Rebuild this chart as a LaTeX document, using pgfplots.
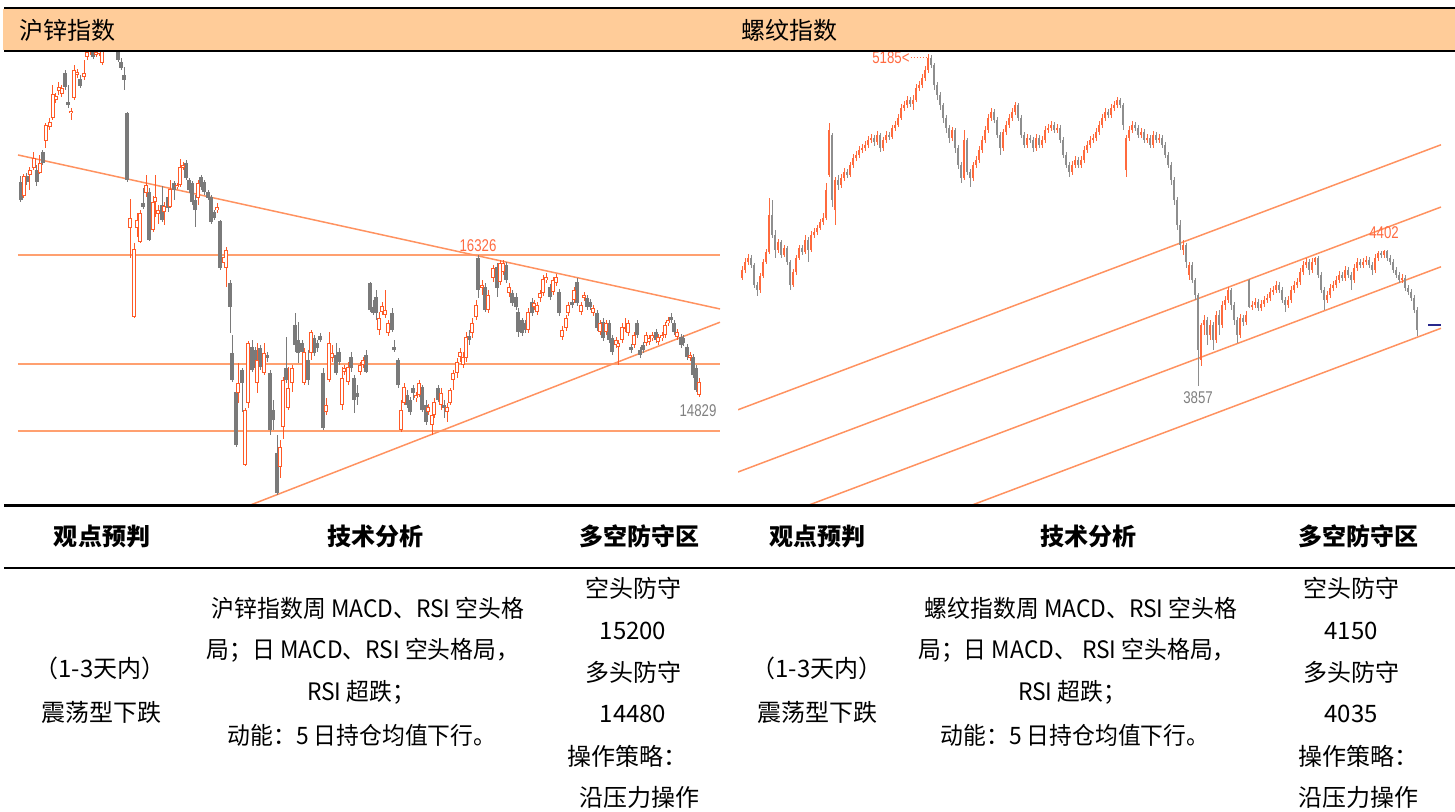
\documentclass[border=0pt]{standalone}
\usepackage{fontspec}
\setmainfont{Noto Sans CJK SC}
\newfontfamily\lab{Liberation Sans}
\usepackage{graphicx}
\usepackage{pgfplots}
\usepackage{pgfplotstable}
\pgfplotsset{compat=1.18}
\definecolor{cRed}{HTML}{FF5A28}
\definecolor{cGray}{HTML}{7A7A7A}
\definecolor{rRed}{HTML}{FF6A3D}
\definecolor{rGray}{HTML}{8E8E8E}
\definecolor{cLine}{HTML}{FF9260}
\definecolor{cHLine}{HTML}{FFA070}
\definecolor{cHead}{HTML}{FFCC99}
\definecolor{cLab}{HTML}{FF6A40}

% Zinc index (left), x = trading-day position, o h l c prices
\pgfplotstableread{
x o h l c
24 16942 17173 16921 17152
30 17163 17247 17005 17215
34 17236 17404 17215 17341
40 17185 17373 17173 17289
46 17520 17709 17446 17688
50 17667 17761 17635 17719
53 17761 18108 17740 18013
56 17950 18024 17919 17992
59 18045 18139 18003 18087
62 18013 18108 17982 18076
71 17814 17866 17740 17835
74 17971 18318 17950 18265
77 18213 18276 18181 18244
84 18192 18370 18160 18234
87 18402 18496 18370 18454
90 18450 18560 18420 18520
96 18423 18500 18400 18454
99 18430 18560 18410 18520
102 18339 18560 18320 18520
106 18520 18620 18480 18600
112 18540 18650 18510 18610
130 16606 16911 16291 16711
134 15672 16449 15661 16386
137 16606 16764 16512 16690
140 16459 16795 16449 16764
146 16974 17163 16932 17058
153 16585 16942 16564 16879
155 16879 17163 16722 16932
158 16753 16848 16648 16795
164 16774 16879 16638 16837
170 16827 17110 16816 17016
177 17037 17079 17016 17058
180 17058 17331 17037 17247
183 17236 17299 17215 17268
198 16921 17110 16848 17079
217 16795 16869 16764 16827
224 16239 16333 16186 16302
226 16186 16407 15987 16375
238 14874 15189 14769 14979
245 14118 14716 14107 14695
248 14769 15420 14716 15399
257 14979 15399 14874 15220
264 15084 15399 15063 15294
280 14097 14380 13981 14307
283 14517 15042 14391 15010
288 14716 15147 14695 14926
292 14979 15168 14884 15136
304 14979 15346 14958 15304
311 15294 15535 15220 15514
326 14674 14821 14643 14748
329 15010 15514 14989 15399
332 15241 15378 15199 15294
342 14748 15147 14695 15031
344 15094 15168 15063 15136
348 14989 15199 14958 15147
360 15094 15199 15063 15168
363 15168 15252 15136 15220
379 15535 15724 15483 15661
382 15724 15829 15693 15787
385 15693 15955 15661 15745
388 15504 15640 15472 15609
401 14485 14800 14464 14695
404 14769 14979 14748 14937
416 14821 14884 14779 14853
419 14853 15010 14832 14979
428 14674 14758 14643 14727
432 14538 14674 14433 14643
434 14643 14821 14611 14779
441 14748 14926 14695 14874
447 14674 14769 14569 14727
450 14769 14926 14748 14905
453 15010 15115 14905 15084
457 15084 15241 15031 15199
460 15252 15346 15199 15304
463 15168 15304 15136 15252
466 15241 15514 15199 15462
472 15504 15661 15451 15609
476 15672 15850 15640 15798
482 15976 16060 15903 16008
488 15745 15955 15714 15903
493 16081 16218 16039 16186
500 16039 16270 16008 16239
503 16144 16270 16113 16239
509 15924 16029 15882 15987
528 15535 15766 15504 15724
534 15777 15850 15745 15819
537 15724 15829 15693 15798
540 15871 15955 15829 15924
543 15924 16113 15892 16071
546 16060 16134 16029 16092
553 15934 16092 15903 16060
556 16029 16123 15997 16092
562 15462 15577 15430 15535
566 15556 15693 15525 15661
568 15714 15829 15682 15798
574 15850 15987 15819 15955
581 15724 15829 15693 15798
584 15871 15934 15840 15903
593 15714 15798 15682 15766
600 15514 15640 15483 15609
606 15514 15640 15483 15609
616 15378 15462 15346 15430
618 15357 15430 15168 15399
622 15430 15609 15399 15567
625 15556 15661 15514 15567
628 15504 15640 15472 15609
634 15378 15514 15346 15483
646 15399 15514 15367 15483
649 15409 15483 15378 15451
652 15451 15514 15420 15483
658 15409 15493 15378 15462
662 15451 15514 15420 15483
665 15483 15619 15451 15588
668 15609 15672 15577 15640
677 15462 15546 15430 15514
690 15241 15304 15210 15273
699 14853 15031 14829 14989
}\LU
\pgfplotstableread{
x o h l c
21 17089 17152 16879 16900
27 17152 17184 17058 17089
37 17215 17268 17047 17089
43 17404 17425 17268 17289
65 18234 18265 18055 18087
68 17929 18108 17866 17898
80 18171 18213 18076 18097
93 18475 18540 18380 18402
109 18600 18640 18500 18540
115 18610 18630 18470 18500
118 18480 18520 18349 18370
121 18349 18391 18265 18286
124 18213 18297 18055 18160
127 17814 17824 17089 17110
143 16869 17026 16806 16827
149 16984 17026 16470 16480
162 16848 17047 16669 16690
168 16932 16984 16774 16816
174 17079 17100 16900 17005
186 17289 17320 17110 17131
189 17110 17131 16974 17005
192 17079 17100 16848 16879
195 16900 16953 16617 16795
201 17142 17163 17005 17037
204 17089 17110 16953 16984
208 16984 17005 16900 16921
211 16932 16953 16648 16669
214 16774 16795 16690 16711
220 16680 16690 16165 16186
230 16029 16060 15504 15777
232 15294 15483 14989 15010
236 14884 14905 14307 14328
242 15115 15136 14674 14979
252 15357 15430 15094 15115
255 15325 15357 15115 15136
260 15346 15378 15115 15147
267 15273 15304 15199 15241
270 15084 15115 14433 14485
273 14695 14800 14485 14590
277 14244 14433 13803 13824
286 15136 15462 14979 15010
295 15588 15714 15304 15378
298 15430 15619 15189 15294
302 15399 15430 15262 15304
308 15220 15325 14958 15010
314 15451 15483 15262 15294
317 15399 15430 15304 15346
320 15472 15504 15409 15430
323 15084 15136 14485 14506
336 15273 15399 15063 15084
339 15304 15346 15168 15199
351 15252 15304 15094 15136
354 15031 15063 14664 14800
357 14874 14958 14748 14832
366 15273 15325 15084 15094
370 16029 16039 15724 15745
373 15777 15850 15693 15714
376 15882 15955 15640 15714
392 15714 15766 15514 15535
394 15357 15430 15304 15325
398 15220 15241 14926 14958
407 14853 14905 14716 14748
410 14800 14832 14643 14674
413 14926 14958 14800 14874
422 14937 14958 14674 14695
426 14748 14800 14538 14569
438 14926 14958 14779 14800
444 14748 14800 14611 14716
469 15472 15535 15378 15430
478 16291 16326 15871 15955
485 15987 16029 15724 15745
497 16197 16239 15882 15976
506 16218 16249 16029 16060
512 15924 15955 15787 15819
516 15882 15924 15745 15777
518 15724 15766 15462 15514
522 15640 15661 15472 15504
525 15609 15640 15504 15535
532 15829 15871 15682 15714
550 15987 16018 15850 15882
559 15934 15966 15682 15714
572 15829 15861 15766 15798
577 16039 16081 15787 15819
587 15871 15903 15745 15777
590 15829 15861 15745 15777
597 15714 15745 15525 15556
603 15619 15661 15420 15451
609 15609 15640 15399 15430
612 15451 15483 15273 15304
631 15357 15388 15294 15325
637 15609 15640 15451 15483
640 15325 15357 15241 15273
643 15378 15409 15294 15325
656 15514 15546 15399 15430
671 15672 15714 15609 15640
674 15609 15640 15483 15514
681 15462 15493 15346 15378
683 15451 15483 15367 15399
687 15357 15388 15220 15252
693 15252 15283 15031 15063
696 15136 15168 14884 14905
}\LD

% Rebar index (right), x = trading-day index
\pgfplotstableread{
x o h l c
0 4290 4336 4280 4320
1 4320 4368 4308 4352
2 4352 4384 4340 4368
6 4240 4308 4228 4296
7 4296 4364 4288 4352
8 4352 4404 4344 4392
9 4392 4608 4384 4540
12 4400 4444 4388 4432
14 4380 4420 4372 4408
17 4260 4324 4252 4312
18 4312 4380 4300 4368
19 4368 4420 4360 4408
21 4392 4460 4384 4440
23 4400 4476 4392 4460
24 4460 4488 4448 4472
25 4472 4500 4460 4488
26 4488 4524 4480 4512
27 4512 4548 4500 4528
28 4528 4668 4520 4640
29 4700 4908 4692 4880
31 4560 4692 4500 4680
33 4660 4704 4648 4688
34 4688 4728 4676 4712
36 4700 4752 4692 4740
37 4740 4784 4728 4768
38 4768 4796 4756 4780
39 4780 4816 4768 4800
40 4800 4824 4788 4808
41 4808 4836 4796 4820
42 4820 4856 4808 4840
43 4840 4864 4828 4848
45 4832 4876 4820 4860
47 4808 4852 4796 4840
48 4840 4876 4828 4860
50 4852 4900 4844 4888
51 4888 4916 4876 4900
52 4900 4944 4892 4928
53 4928 4984 4920 4968
54 4968 4996 4956 4980
55 4980 5016 4968 5000
57 4984 5020 4960 5000
58 5000 5064 4992 5048
59 5048 5076 5036 5060
60 5060 5104 5048 5088
61 5088 5136 5076 5120
62 5120 5185 5108 5168
70 4848 4892 4836 4880
74 4688 4880 4680 4840
77 4688 4752 4676 4740
78 4740 4776 4728 4760
79 4760 4816 4748 4800
80 4800 4856 4788 4840
81 4840 4896 4828 4880
82 4880 4944 4868 4928
83 4928 4968 4916 4952
87 4808 4884 4796 4872
88 4872 4916 4860 4900
89 4900 4944 4888 4928
90 4928 4968 4916 4952
91 4952 4992 4940 4980
95 4820 4864 4808 4848
98 4808 4864 4796 4848
100 4820 4856 4808 4840
101 4840 4896 4828 4880
102 4880 4904 4868 4888
103 4888 4916 4876 4900
105 4880 4904 4868 4888
110 4712 4756 4700 4740
111 4740 4776 4728 4760
113 4740 4776 4728 4760
114 4760 4816 4748 4800
115 4800 4836 4788 4820
116 4820 4856 4808 4840
117 4840 4864 4828 4848
118 4848 4888 4836 4872
119 4872 4916 4860 4900
120 4900 4944 4888 4928
121 4928 4968 4916 4952
123 4940 4984 4928 4968
124 4968 4996 4956 4980
125 4980 5012 4968 5000
128 4720 4860 4692 4848
129 4848 4896 4836 4880
130 4880 4916 4868 4900
133 4860 4888 4848 4872
135 4840 4864 4828 4848
137 4820 4876 4808 4860
139 4840 4864 4828 4848
147 4400 4440 4380 4420
149 4300 4352 4280 4340
153 3960 4110 3935 4100
154 4100 4140 4060 4120
156 4060 4120 4040 4100
158 4040 4156 4030 4140
160 4100 4196 4088 4180
161 4180 4216 4160 4200
162 4200 4252 4188 4240
166 4060 4144 4048 4128
168 4112 4156 4100 4140
170 4172 4196 4160 4180
171 4180 4208 4168 4192
173 4168 4200 4156 4184
174 4184 4216 4172 4200
175 4200 4224 4188 4208
176 4208 4248 4196 4232
177 4232 4256 4220 4240
178 4240 4276 4228 4260
182 4180 4216 4168 4200
183 4200 4256 4188 4240
184 4240 4276 4228 4260
185 4260 4288 4248 4272
186 4272 4328 4260 4312
187 4312 4356 4300 4340
188 4340 4368 4328 4352
190 4320 4368 4308 4352
191 4352 4372 4340 4368
195 4200 4236 4188 4220
196 4220 4264 4208 4248
197 4248 4276 4236 4260
198 4260 4296 4248 4280
199 4280 4316 4268 4300
201 4288 4336 4276 4320
204 4280 4344 4268 4328
205 4328 4368 4316 4352
207 4340 4368 4328 4352
208 4352 4376 4340 4360
211 4320 4384 4308 4368
212 4368 4396 4356 4388
214 4380 4402 4368 4395
220 4280 4304 4268 4288
}\RU
\pgfplotstableread{
x o h l c
3 4368 4380 4328 4340
4 4340 4348 4248 4260
5 4260 4272 4216 4240
10 4540 4600 4448 4460
11 4460 4480 4368 4400
13 4432 4440 4368 4380
15 4408 4416 4340 4352
16 4352 4360 4240 4260
20 4408 4420 4380 4392
22 4440 4452 4352 4400
30 4860 4868 4572 4600
32 4680 4700 4640 4660
35 4712 4724 4688 4700
44 4848 4860 4816 4832
46 4860 4868 4792 4808
49 4860 4872 4840 4852
56 5000 5012 4972 4984
63 5168 5180 5128 5140
64 5140 5148 5040 5060
65 5060 5072 5000 5020
66 5020 5032 4960 4980
67 4980 4990 4908 4928
68 4928 4940 4868 4888
69 4888 4900 4828 4848
71 4880 4888 4790 4808
72 4808 4820 4724 4740
73 4740 4752 4668 4688
75 4840 4848 4700 4712
76 4712 4724 4652 4688
84 4952 4964 4908 4920
85 4920 4932 4848 4860
86 4860 4872 4780 4808
92 4980 4988 4916 4928
93 4928 4940 4848 4860
94 4860 4872 4808 4820
96 4848 4860 4828 4840
97 4840 4852 4792 4808
99 4848 4860 4808 4820
104 4900 4912 4868 4880
106 4888 4900 4828 4840
107 4840 4852 4768 4780
108 4780 4792 4728 4740
109 4740 4752 4692 4712
112 4760 4772 4728 4740
122 4952 4964 4928 4940
126 5000 5008 4968 4980
127 4980 4988 4880 4900
131 4900 4912 4876 4888
132 4888 4900 4848 4860
134 4872 4884 4828 4840
136 4848 4860 4808 4820
138 4860 4872 4828 4840
140 4848 4860 4808 4820
141 4820 4832 4768 4780
142 4780 4792 4728 4740
143 4740 4752 4660 4680
144 4680 4692 4580 4600
145 4600 4612 4480 4500
146 4500 4520 4400 4420
148 4420 4428 4330 4352
150 4340 4352 4270 4280
151 4280 4290 4200 4220
152 4220 4228 3857 4000
155 4120 4132 4020 4060
157 4100 4112 4000 4040
159 4140 4160 4060 4100
163 4240 4248 4160 4180
164 4180 4192 4100 4120
165 4120 4132 4028 4060
167 4128 4140 4096 4112
169 4280 4284 4168 4172
172 4192 4204 4156 4168
179 4260 4272 4228 4240
180 4240 4252 4188 4200
181 4200 4212 4152 4180
189 4352 4364 4300 4320
192 4368 4376 4288 4300
193 4300 4312 4228 4240
194 4240 4252 4160 4200
200 4300 4312 4276 4288
202 4320 4332 4288 4300
203 4300 4312 4240 4280
206 4352 4364 4328 4340
209 4360 4372 4328 4340
210 4340 4352 4300 4320
213 4388 4398 4368 4380
215 4395 4400 4356 4368
216 4368 4380 4340 4352
217 4352 4364 4308 4320
218 4320 4332 4288 4300
219 4300 4312 4268 4280
221 4288 4300 4236 4248
222 4248 4260 4220 4232
223 4232 4244 4196 4208
224 4208 4220 4148 4160
225 4160 4172 4056 4080
}\RD

\pgfplotsset{
  cndl/.style 2 args={draw=none, mark=none, forget plot,
    error bars/.cd, y dir=both, y explicit, error mark=none,
    error bar style={draw=#1, line width=#2}},
}
\newcommand{\wick}[3]{\addplot[cndl={#2}{#3}] table[x=x, y expr={(\thisrow{h}+\thisrow{l})/2}, y error expr={(\thisrow{h}-\thisrow{l})/2}] {#1};}
\newcommand{\body}[3]{\addplot[cndl={#2}{#3}] table[x=x, y expr={(\thisrow{o}+\thisrow{c})/2}, y error expr={abs(\thisrow{o}-\thisrow{c})/2}] {#1};}
\newcommand{\hollow}[4]{\addplot[cndl={#2}{#3}] table[x=x, y expr={(\thisrow{o}+\thisrow{c})/2}, y error expr={max(abs(\thisrow{o}-\thisrow{c})/2-#4,0)}] {#1};}

\begin{document}
\begin{tikzpicture}
\path[use as bounding box] (0,0) rectangle (727.5pt,-405.5pt);
\begin{scope}[x=0.5pt,y=-0.5pt]
\fill[cHead] (3,9) rectangle (1455,50);
\node[anchor=west, inner sep=0, font=\fontsize{12}{12}\selectfont] at (19,30) {沪锌指数};
\node[anchor=west, inner sep=0, font=\fontsize{12}{12}\selectfont] at (741,30) {螺纹指数};
\end{scope}

% ---------- left: zinc ----------
\begin{axis}[at={(9pt,-26pt)}, anchor=north west, scale only axis,
  width=351pt, height=226pt, xmin=18, xmax=720, ymin=13708, ymax=18454,
  hide axis, clip=true]
\addplot[cHLine, line width=1pt, forget plot] coordinates {(18,16326) (720,16326)};
\addplot[cHLine, line width=1pt, forget plot] coordinates {(18,15180) (720,15180)};
\addplot[cHLine, line width=1pt, forget plot] coordinates {(18,14475) (720,14475)};
\addplot[cLine, line width=0.75pt, forget plot] coordinates {(18,17373) (720,15756)};
\addplot[cLine, line width=0.75pt, forget plot] coordinates {(240,13655) (720,15617)};
\wick{\LD}{cGray}{0.5pt}
\body{\LD}{cGray}{1.6pt}
\wick{\LU}{cRed}{0.5pt}
\body{\LU}{cRed}{1.6pt}
\hollow{\LU}{white}{0.55pt}{9}
\node[text=cLab, inner sep=0, font=\lab\fontsize{8.5}{8.5}\selectfont] at (axis cs:478,16420) {\scalebox{0.78}[1]{16326}};
\node[text=gray, inner sep=0, font=\lab\fontsize{8.5}{8.5}\selectfont] at (axis cs:698,14684) {\scalebox{0.78}[1]{14829}};
\end{axis}

% ---------- right: rebar ----------
\begin{axis}[at={(369pt,-26pt)}, anchor=north west, scale only axis,
  width=351.5pt, height=226pt, xmin=-1.3333, xmax=233, ymin=3384, ymax=5192,
  hide axis, clip=true]
\addplot[cLine, line width=0.75pt, forget plot] coordinates {(-1.3333,3761) (233,4821)};
\addplot[cLine, line width=0.75pt, forget plot] coordinates {(-1.3333,3512) (233,4572)};
\addplot[cLine, line width=0.75pt, forget plot] coordinates {(-1.3333,3273) (233,4333)};
\addplot[cLine, line width=0.75pt, forget plot] coordinates {(-1.3333,3027) (233,4087)};
\wick{\RD}{rGray}{0.4pt}
\body{\RD}{rGray}{1.1pt}
\wick{\RU}{rRed}{0.4pt}
\body{\RU}{rRed}{1.1pt}
\node[anchor=east, text=cLab, inner sep=0, font=\lab\fontsize{8.5}{8.5}\selectfont] at (axis cs:56,5170) {\scalebox{0.78}[1]{5185<}};
\draw[cLab, densely dotted, line width=0.5pt] (axis cs:56.2,5172) -- (axis cs:62,5172);
\node[text=cLab, inner sep=0, font=\lab\fontsize{8.5}{8.5}\selectfont] at (axis cs:214,4470) {\scalebox{0.78}[1]{4402}};
\node[text=gray, inner sep=0, font=\lab\fontsize{8.5}{8.5}\selectfont] at (axis cs:152,3810) {\scalebox{0.78}[1]{3857}};
\addplot[color={rgb,255:red,40;green,40;blue,140}, line width=1pt, forget plot] coordinates {(228.7,4100) (233,4100)};
\end{axis}

\begin{scope}[x=0.5pt,y=-0.5pt]
\draw[black, line width=1.25pt] (4,8) -- (1455,8);
\draw[black, line width=1.1pt] (4,51) -- (1455,51);
\draw[black, line width=1.3pt] (4,505.5) -- (1455,505.5);
\draw[black, line width=1.1pt] (4,568) -- (1455,568);
\tikzset{th/.style={inner sep=0, font=\fontsize{12}{12}\selectfont\bfseries},
         td/.style={inner sep=0, font=\fontsize{12}{12}\selectfont}}
% left table
\node[th] at (102,536) {观点预判};
\node[th] at (375,536) {技术分析};
\node[th] at (639,536) {多空防守区};
\node[td] at (100,668) {（1-3天内）};
\node[td] at (101,712) {震荡型下跌};
\node[td] at (368,608) {\scalebox{0.95}[1]{沪锌指数周 MACD、RSI 空头格}};
\node[td] at (363,650) {\scalebox{0.95}[1]{局；日 MACD、RSI 空头格局，}};
\node[td] at (361,692) {\scalebox{0.95}[1]{RSI 超跌；}};
\node[td] at (362,735) {\scalebox{0.95}[1]{动能：5 日持仓均值下行。}};
\node[td] at (633,588) {空头防守};
\node[td] at (633,631) {15200};
\node[td] at (633,672) {多头防守};
\node[td] at (633,714) {14480};
\node[td] at (627,756) {操作策略：};
\node[td] at (639,797) {沿压力操作};
% right table
\node[th] at (817,536) {观点预判};
\node[th] at (1088,536) {技术分析};
\node[th] at (1358,536) {多空防守区};
\node[td] at (817,668) {（1-3天内）};
\node[td] at (817,712) {震荡型下跌};
\node[td] at (1081,608) {\scalebox{0.95}[1]{螺纹指数周 MACD、RSI 空头格}};
\node[td] at (1077,650) {\scalebox{0.95}[1]{局；日 MACD、 RSI 空头格局，}};
\node[td] at (1072,692) {\scalebox{0.95}[1]{RSI 超跌；}};
\node[td] at (1075,735) {\scalebox{0.95}[1]{动能：5 日持仓均值下行。}};
\node[td] at (1351,588) {空头防守};
\node[td] at (1351,631) {4150};
\node[td] at (1351,672) {多头防守};
\node[td] at (1351,714) {4035};
\node[td] at (1358,756) {操作策略：};
\node[td] at (1358,797) {沿压力操作};
\end{scope}
\end{tikzpicture}
\end{document}
